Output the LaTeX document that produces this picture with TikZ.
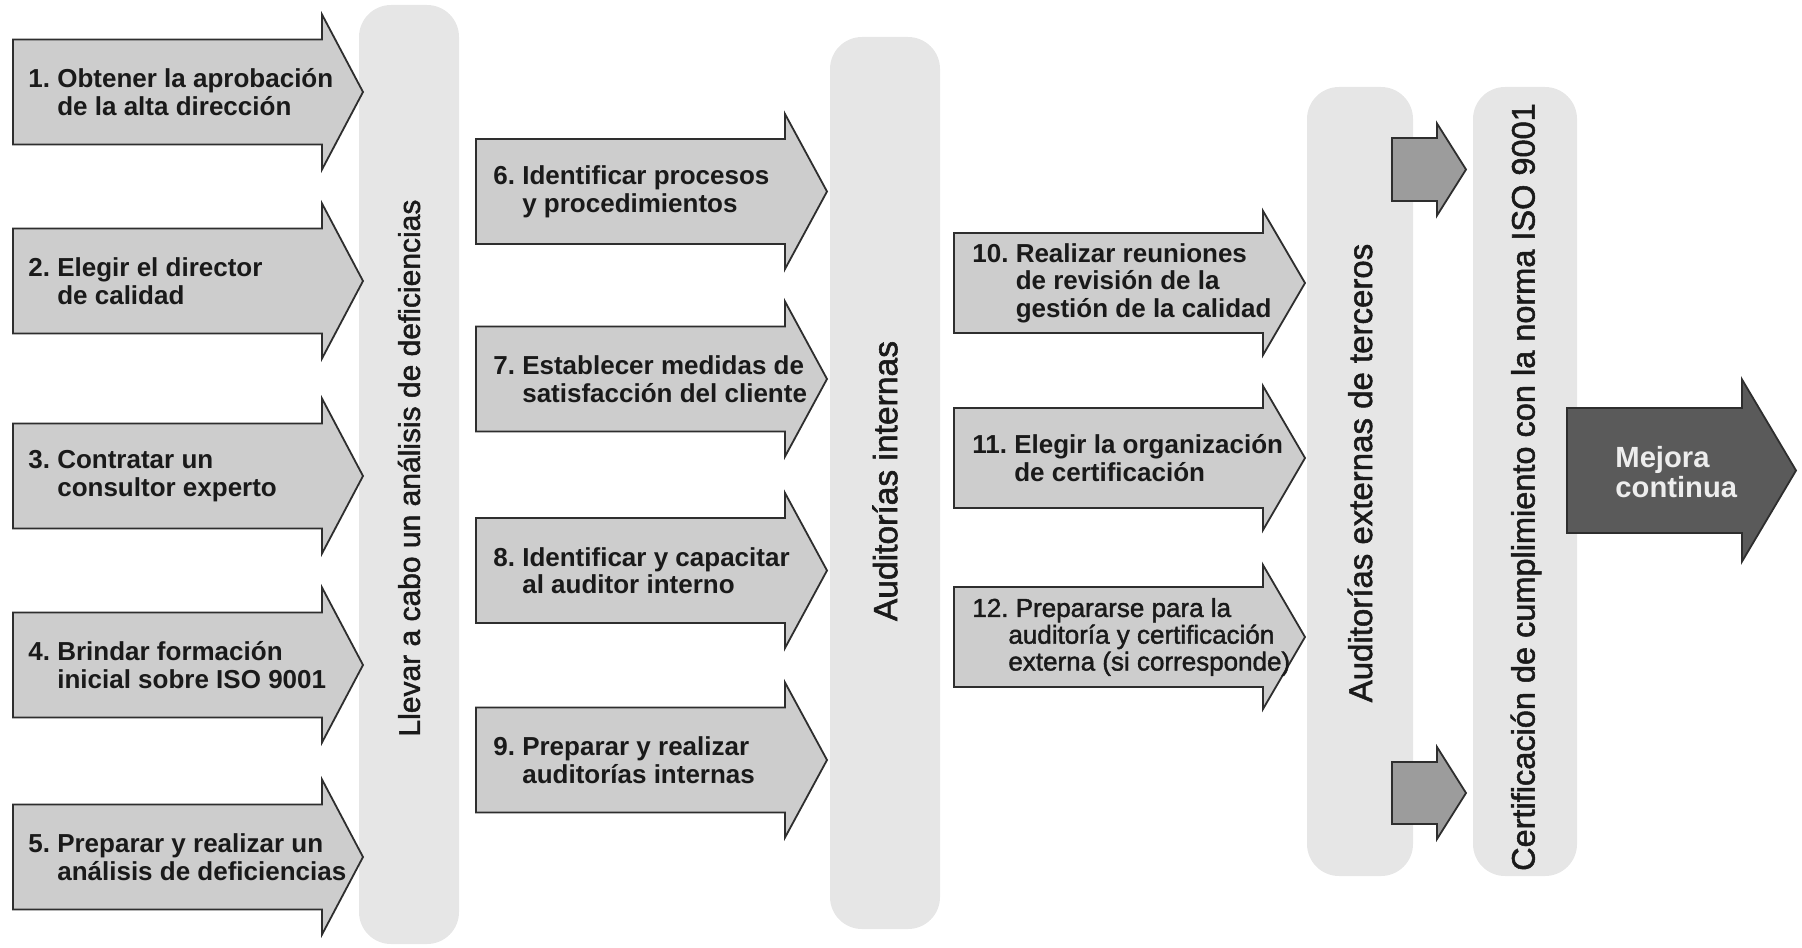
\documentclass[tikz,border=0pt]{standalone}
\usepackage{fontspec}
\setmainfont{Liberation Sans}
\newfontfamily\medfont[FakeBold=1.6]{Liberation Sans}
\definecolor{colfill}{HTML}{E6E6E6}
\definecolor{arrfill}{HTML}{CDCDCD}
\definecolor{smallfill}{HTML}{9C9C9C}
\definecolor{darkfill}{HTML}{5A5A5A}
\definecolor{edgecol}{HTML}{2E2E2E}
\definecolor{txtcol}{HTML}{1A1A1A}
\newcommand\harrowpath[7]{% #1 style, #2 x left, #3 head base x, #4 tip x, #5 center y, #6 half body, #7 half head
  \draw[#1] (#2,#5-#6) -- (#3,#5-#6) -- (#3,#5-#7) -- (#4,#5) -- (#3,#5+#7) -- (#3,#5+#6) -- (#2,#5+#6) -- cycle;}
\tikzset{
  column/.style={fill=colfill, draw=none, rounded corners=16pt},
  arrowbox/.style={fill=arrfill, draw=edgecol, line width=0.9pt, line join=miter},
  smallarrow/.style={fill=smallfill, draw=edgecol, line width=0.9pt, line join=miter},
  bigarrow/.style={fill=darkfill, draw=edgecol, line width=0.9pt, line join=miter},
  steptext/.style={anchor=west, align=left, inner sep=0pt, text=txtcol,
    font=\fontsize{13}{13.8}\selectfont\bfseries},
  steptextreg/.style={anchor=west, align=left, inner sep=0pt, text=txtcol,
    font=\medfont\fontsize{13}{13.4}\selectfont},
  vlabel/.style={rotate=90, inner sep=0pt, text=txtcol},
}
\begin{document}
\begin{tikzpicture}[x=0.5pt,y=-0.5pt]
\useasboundingbox (0,0) rectangle (1802,947);
% columns
\fill[column] (359,5) rectangle (459,944);
\fill[column] (830,37) rectangle (940,929);
\fill[column] (1307,87) rectangle (1413,876);
\fill[column] (1473,87) rectangle (1577,876);
\node[vlabel, font=\medfont\fontsize{15}{18}\selectfont] (lbl1) at (409,468) {Llevar a cabo un análisis de deficiencias};
\node[vlabel, font=\medfont\fontsize{16.8}{20}\selectfont] (lbl2) at (885,481) {Auditorías internas};
\node[vlabel, font=\medfont\fontsize{16.5}{20}\selectfont] (lbl3) at (1360,473) {Auditorías externas de terceros};
\node[vlabel, font=\medfont\fontsize{16.25}{20}\selectfont] (lbl4) at (1526,487) {Certificación de cumplimiento con la norma ISO 9001};
% left arrows
\harrowpath{arrowbox}{13}{322}{363}{92}{52.5}{77.5}
\harrowpath{arrowbox}{13}{322}{363}{281}{52.5}{77.5}
\harrowpath{arrowbox}{13}{322}{363}{476}{52.5}{77.5}
\harrowpath{arrowbox}{13}{322}{363}{665}{52.5}{77.5}
\harrowpath{arrowbox}{13}{322}{363}{857}{52.5}{77.5}
\node[steptext] (s1) at (28,92) {1.\ Obtener la aprobación\\\hphantom{1.\ }de la alta dirección};
\node[steptext] (s2) at (28,281) {2.\ Elegir el director\\\hphantom{2.\ }de calidad};
\node[steptext] (s3) at (28,476) {3.\ Contratar un\\\hphantom{3.\ }consultor experto};
\node[steptext] (s4) at (28,665) {4.\ Brindar formación\\\hphantom{4.\ }inicial sobre ISO 9001};
\node[steptext] (s5) at (28,857) {5.\ Preparar y realizar un\\\hphantom{5.\ }análisis de deficiencias};
% middle arrows
\harrowpath{arrowbox}{476}{785}{827}{191.5}{52.5}{77.5}
\harrowpath{arrowbox}{476}{785}{827}{379}{52.5}{77.5}
\harrowpath{arrowbox}{476}{785}{827}{570.5}{52.5}{77.5}
\harrowpath{arrowbox}{476}{785}{827}{760}{52.5}{77.5}
\node[steptext] (s6) at (493,191.5) {6.\ Identificar procesos\\\hphantom{6.\ }y procedimientos};
\node[steptext] (s7) at (493,379) {7.\ Establecer medidas de\\\hphantom{7.\ }satisfacción del cliente};
\node[steptext] (s8) at (493,570.5) {8.\ Identificar y capacitar\\\hphantom{8.\ }al auditor interno};
\node[steptext] (s9) at (493,760) {9.\ Preparar y realizar\\\hphantom{9.\ }auditorías internas};
% right arrows
\harrowpath{arrowbox}{954}{1263}{1305}{283}{50}{72}
\harrowpath{arrowbox}{954}{1263}{1305}{458}{50}{72}
\harrowpath{arrowbox}{954}{1263}{1305}{637}{50}{72}
\node[steptext] (s10) at (972,283) {10.\ Realizar reuniones\\\hphantom{10.\ }de revisión de la\\\hphantom{10.\ }gestión de la calidad};
\node[steptext] (s11) at (972,458) {11.\ Elegir la organización\\\hphantom{11.\ }de certificación};
\node[steptextreg] (s12) at (972,637) {12.\ Prepararse para la\\\hspace{18pt}auditoría y certificación\\\hspace{18pt}externa (si corresponde)};
% small arrows
\harrowpath{smallarrow}{1392}{1437}{1466}{169.5}{31.5}{46}
\harrowpath{smallarrow}{1392}{1437}{1466}{793}{31}{46}
% Mejora continua
\harrowpath{bigarrow}{1567}{1742}{1796}{470.5}{62.5}{91}
\node[anchor=west, align=left, inner sep=0pt, text=white!93!black,
  font=\fontsize{14.6}{13.6}\selectfont\bfseries] (mc) at (1615,472) {Mejora\\continua};
\end{tikzpicture}
\end{document}
